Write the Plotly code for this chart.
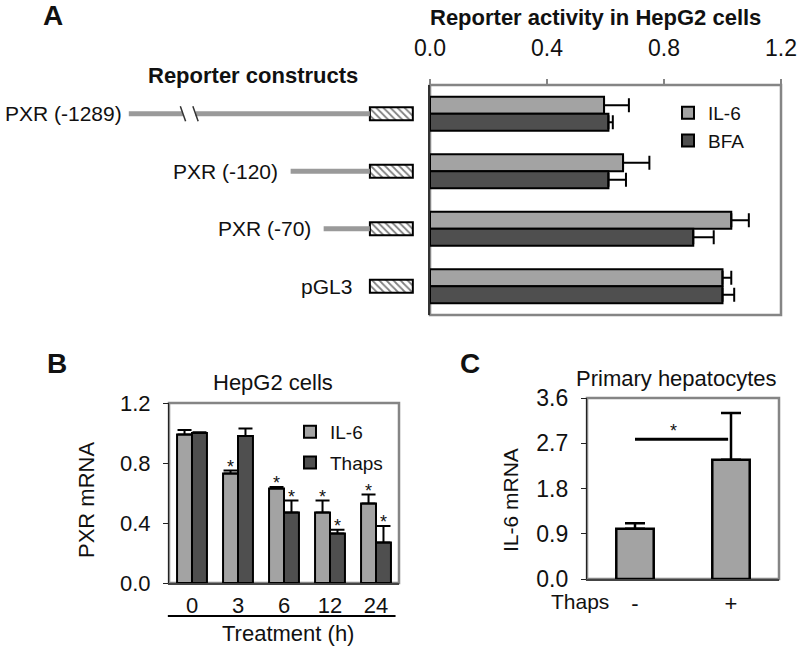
import plotly.graph_objects as go

FONT = "Arial, Liberation Sans, sans-serif"
LIGHT = "#a3a3a3"
DARK = "#4f4f4f"
BORDER = "#858585"

# ---------------- Panel A data ----------------
constructs = ["PXR (-1289)", "PXR (-120)", "PXR (-70)", "pGL3"]
promoter_start_bp = [-1289, -120, -70, 0]
# -1289 is drawn on a broken axis (compressed)
broken_display_start = -365
axis_break = (-283, -264)
luc_box_len = 65

a_il6 = [0.595, 0.66, 1.03, 1.0]
a_il6_err = [0.085, 0.09, 0.06, 0.03]
a_bfa = [0.61, 0.61, 0.90, 1.0]
a_bfa_err = [0.015, 0.06, 0.07, 0.04]
a_ticks = [0.0, 0.4, 0.8, 1.2]

# ---------------- Panel B data ----------------
b_times = ["0", "3", "6", "12", "24"]
b_il6 = [0.99, 0.73, 0.63, 0.47, 0.53]
b_il6_err = [0.03, 0.02, 0.01, 0.08, 0.06]
b_thaps = [1.0, 0.98, 0.47, 0.33, 0.27]
b_thaps_err = [0.005, 0.05, 0.08, 0.025, 0.11]
b_il6_sig = [False, True, True, True, True]
b_thaps_sig = [False, False, True, True, True]
b_ticks = [0.0, 0.4, 0.8, 1.2]

# ---------------- Panel C data ----------------
c_labels = ["-", "+"]
c_vals = [1.0, 2.37]
c_err = [0.11, 0.93]
c_sig_y = 2.78
c_ticks = [0.0, 0.9, 1.8, 2.7, 3.6]

STAR_DROP_B = 0.045  # asterisk glyph sits high in its text box

fig = go.Figure()

# ---- Panel A bars
ya = list(range(len(constructs)))
wA = 0.295
fig.add_trace(go.Bar(
    name="IL-6", y=ya, x=a_il6, orientation="h", width=wA, offset=-wA,
    marker=dict(color=LIGHT, line=dict(color="black", width=2)),
    error_x=dict(type="data", array=a_il6_err, arrayminus=[0] * 4, symmetric=False,
                 color="black", thickness=2, width=7),
    xaxis="x", yaxis="y", legend="legend", hoverinfo="skip"))
fig.add_trace(go.Bar(
    name="BFA", y=ya, x=a_bfa, orientation="h", width=wA, offset=0,
    marker=dict(color=DARK, line=dict(color="black", width=2)),
    error_x=dict(type="data", array=a_bfa_err, arrayminus=[0] * 4, symmetric=False,
                 color="black", thickness=2, width=7),
    xaxis="x", yaxis="y", legend="legend", hoverinfo="skip"))

# ---- Construct diagrams (x4 axis)
lx, ly = [], []
for i, s in enumerate(promoter_start_bp):
    if s == 0:
        continue
    if s < axis_break[0]:
        lx += [broken_display_start, axis_break[0], None, axis_break[1], 0, None]
        ly += [i, i, None, i, i, None]
    else:
        lx += [s, 0, None]
        ly += [i, i, None]
fig.add_trace(go.Scatter(x=lx, y=ly, mode="lines", line=dict(color="#9a9a9a", width=5),
                         xaxis="x4", yaxis="y", showlegend=False, hoverinfo="skip"))
# break marks
bx, by = [], []
for b in axis_break:
    bx += [b - 4, b + 4, None]
    by += [-0.13, 0.13, None]
fig.add_trace(go.Scatter(x=bx, y=by, mode="lines", line=dict(color="#333", width=1.5),
                         xaxis="x4", yaxis="y", showlegend=False, hoverinfo="skip"))
fig.add_trace(go.Bar(
    y=ya, x=[luc_box_len] * 4, base=[0] * 4, orientation="h", width=0.23,
    marker=dict(color="white", line=dict(color="black", width=2),
                pattern=dict(shape="\\", fgcolor="black", bgcolor="white", size=5, solidity=0.35)),
    xaxis="x4", yaxis="y", showlegend=False, hoverinfo="skip"))

# ---- Panel B
xb = list(range(len(b_times)))
wB = 0.325
fig.add_trace(go.Bar(
    name="IL-6", x=xb, y=b_il6, width=wB, offset=-wB,
    marker=dict(color=LIGHT, line=dict(color="black", width=2)),
    error_y=dict(type="data", array=b_il6_err, arrayminus=[0] * 5, symmetric=False,
                 color="black", thickness=2, width=7),
    xaxis="x2", yaxis="y2", legend="legend2", legendgroup="g1", hoverinfo="skip"))
fig.add_trace(go.Bar(
    name="Thaps", x=xb, y=b_thaps, width=wB, offset=0,
    marker=dict(color=DARK, line=dict(color="black", width=2)),
    error_y=dict(type="data", array=b_thaps_err, arrayminus=[0] * 5, symmetric=False,
                 color="black", thickness=2, width=7),
    xaxis="x2", yaxis="y2", legend="legend2", legendgroup="g2", hoverinfo="skip"))
sx, sy = [], []
for i in xb:
    if b_il6_sig[i]:
        sx.append(i - wB / 2); sy.append(b_il6[i] + b_il6_err[i] - STAR_DROP_B)
    if b_thaps_sig[i]:
        sx.append(i + wB / 2); sy.append(b_thaps[i] + b_thaps_err[i] - STAR_DROP_B)
fig.add_trace(go.Scatter(x=sx, y=sy, mode="text", text=["*"] * len(sx),
                         textposition="top center", textfont=dict(family=FONT, size=18, color="#111"),
                         xaxis="x2", yaxis="y2", showlegend=False, hoverinfo="skip"))

# ---- Panel C
xc = list(range(len(c_labels)))
fig.add_trace(go.Bar(
    x=xc, y=c_vals, width=0.39,
    marker=dict(color=LIGHT, line=dict(color="black", width=2.5)),
    error_y=dict(type="data", array=c_err, arrayminus=[0] * 2, symmetric=False,
                 color="black", thickness=2.5, width=10),
    xaxis="x3", yaxis="y3", showlegend=False, hoverinfo="skip"))
fig.add_trace(go.Scatter(x=[xc[0], xc[1] - 0.03], y=[c_sig_y, c_sig_y], mode="lines",
                         line=dict(color="black", width=3),
                         xaxis="x3", yaxis="y3", showlegend=False, hoverinfo="skip"))
fig.add_trace(go.Scatter(x=[0.4], y=[c_sig_y - 0.05], mode="text", text=["*"], textposition="top center",
                         textfont=dict(family=FONT, size=18, color="#111"),
                         xaxis="x3", yaxis="y3", showlegend=False, hoverinfo="skip"))


def py(p):
    return 1 - p / 650.0


def fmt(v):
    return f"{v:.1f}"


axis_common = dict(showgrid=False, zeroline=False, automargin=False)
fig.update_layout(
    width=800, height=650, margin=dict(l=0, r=0, t=0, b=0, autoexpand=False),
    paper_bgcolor="white", plot_bgcolor="white",
    font=dict(family=FONT, color="#111"),
    barmode="overlay",
    xaxis=dict(domain=[430 / 800, 781 / 800], anchor="y", side="top", range=[0, 1.2],
               tickvals=a_ticks, ticktext=[fmt(v) for v in a_ticks], ticks="outside",
               ticklen=5, tickcolor=BORDER, tickwidth=1.5, tickfont=dict(size=23),
               ticklabelstandoff=14, showline=False, **axis_common),
    yaxis=dict(domain=[py(315), py(85)], anchor="x", range=[3.5, -0.5],
               showticklabels=False, showline=True, linecolor="#333", linewidth=1.5,
               ticks="", **axis_common),
    xaxis4=dict(domain=[0, 430 / 800], anchor="y", range=[-560, 91], visible=False,
                **axis_common),
    xaxis2=dict(domain=[169 / 800, 399 / 800], anchor="y2", range=[-0.5, 4.5],
                tickvals=xb, ticktext=b_times, ticks="", tickfont=dict(size=22),
                ticklabelstandoff=2, showline=True, linecolor="#444", linewidth=1.5,
                **axis_common),
    yaxis2=dict(domain=[py(583), py(403)], anchor="x2", range=[0, 1.2],
                tickvals=b_ticks, ticktext=[fmt(v) for v in b_ticks], ticks="outside",
                ticklen=5, tickcolor="#222", tickfont=dict(size=22), ticklabelstandoff=8,
                showline=True, linecolor="#222", linewidth=1.2, **axis_common),
    xaxis3=dict(domain=[587 / 800, 779 / 800], anchor="y3", range=[-0.5, 1.5],
                tickvals=xc, ticktext=c_labels, ticks="", tickfont=dict(size=22),
                ticklabelstandoff=4, showline=True, linecolor="#444", linewidth=1.5,
                **axis_common),
    yaxis3=dict(domain=[py(579), py(398)], anchor="x3", range=[0, 3.6],
                tickvals=c_ticks, ticktext=[fmt(v) for v in c_ticks], ticks="outside",
                ticklen=5, tickcolor="#222", tickfont=dict(size=23), ticklabelstandoff=8,
                showline=True, linecolor="#222", linewidth=1.2, **axis_common),
    legend=dict(x=668 / 800, y=py(94), xanchor="left", yanchor="top",
                font=dict(size=19), bgcolor="rgba(0,0,0,0)", traceorder="normal",
                itemwidth=30, tracegroupgap=0),
    legend2=dict(x=290 / 800, y=py(413), xanchor="left", yanchor="top",
                 font=dict(size=19), bgcolor="rgba(0,0,0,0)", traceorder="grouped",
                 itemwidth=30, tracegroupgap=3),
    showlegend=True,
)

shapes = []
for xr, yr in [("x", "y"), ("x2", "y2"), ("x3", "y3")]:
    shapes.append(dict(type="rect", xref=f"{xr} domain", yref=f"{yr} domain",
                       x0=0, x1=1, y0=0, y1=1, line=dict(color=BORDER, width=2.5),
                       layer="below"))
shapes.append(dict(type="line", xref="x2 domain", yref="paper", x0=-0.005, x1=0.985,
                   y0=py(616), y1=py(616), line=dict(color="black", width=2)))
fig.update_layout(shapes=shapes)

ann = []


def add(text, x, y, size, bold=False, angle=0, xanchor="center"):
    ann.append(dict(text=f"<b>{text}</b>" if bold else text, x=x / 800, y=py(y),
                    xref="paper", yref="paper", xanchor=xanchor, yanchor="middle",
                    showarrow=False, textangle=angle, font=dict(size=size, family=FONT, color="#111")))


add("A", 53, 16, 28, bold=True)
add("B", 57, 363, 28, bold=True)
add("C", 470, 363, 28, bold=True)
add("Reporter activity in HepG2 cells", 595, 17, 22, bold=True)
add("Reporter constructs", 253, 76, 22, bold=True)
add("HepG2 cells", 273, 382, 22)
add("Primary hepatocytes", 676, 378, 22)
add("PXR mRNA", 86, 500, 22, angle=-90)
add("IL-6 mRNA", 510, 500, 21, angle=-90)
add("Treatment (h)", 288, 633, 22)
add("Thaps", 580, 601, 21)

for i, (lab, s) in enumerate(zip(constructs, promoter_start_bp)):
    broken = s < axis_break[0]
    xs = broken_display_start if broken else s
    ann.append(dict(text=lab, x=xs, y=i, xref="x4", yref="y", xanchor="right",
                    yanchor="middle", xshift=-5 if broken else (-11 if s != 0 else -16),
                    showarrow=False, font=dict(size=21, family=FONT, color="#111")))
fig.update_layout(annotations=ann)

fig.write_html("out.html", config={"displayModeBar": False},
               post_script="document.body.style.margin='0px';")
